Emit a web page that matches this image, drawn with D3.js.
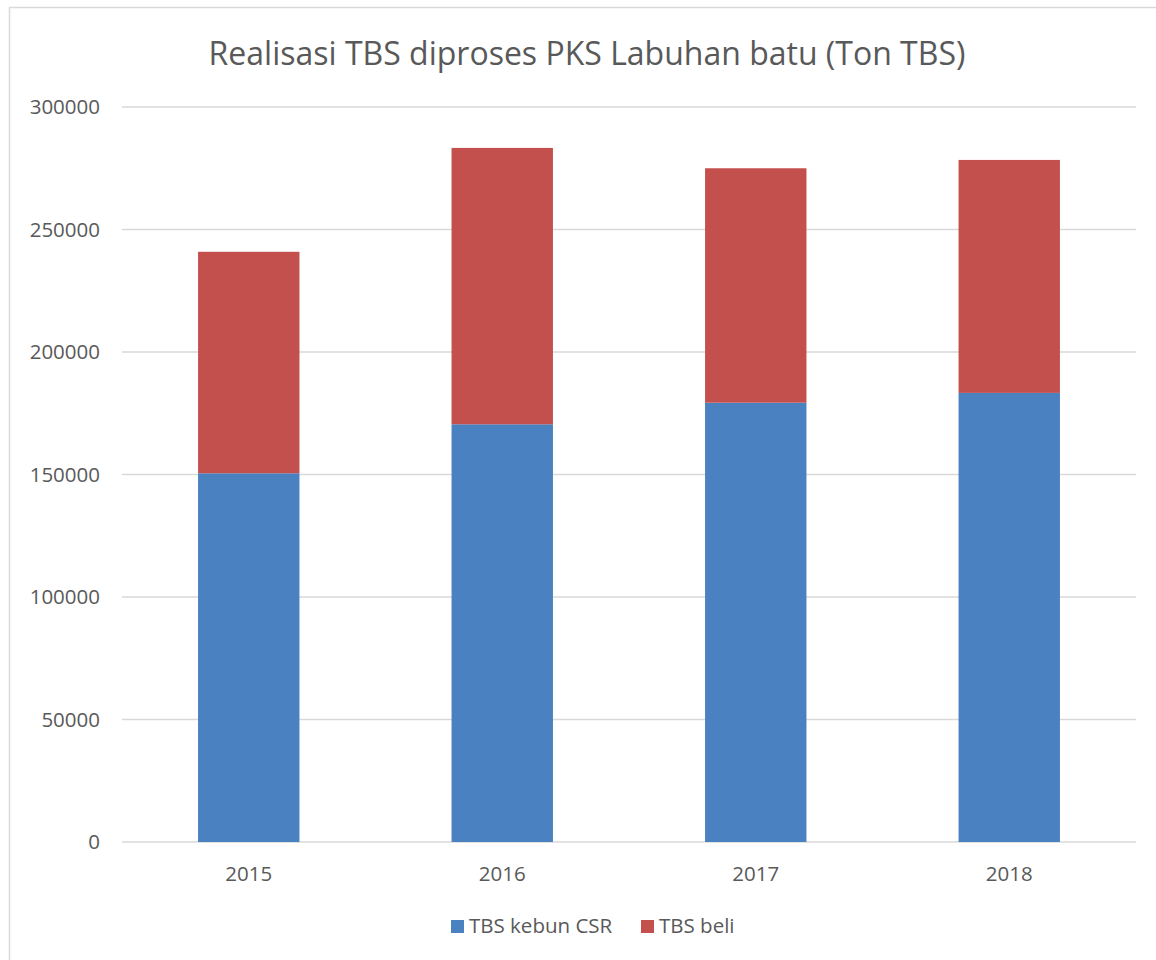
<!DOCTYPE html>
<html>
<head>
<meta charset="utf-8">
<script src="https://cdn.jsdelivr.net/npm/d3@7"></script>
<style>
  body { margin: 0; background: #fff; }
  svg text { font-family: "Open Sans", sans-serif; fill: #595959; }
</style>
</head>
<body>
<svg id="chart" width="1156" height="960"></svg>
<script>
var years = ["2015", "2016", "2017", "2018"];
var kebunCSR = [150500, 170500, 179300, 183300];
var beli = [90400, 112800, 95700, 95100];
var seriesNames = ["TBS kebun CSR", "TBS beli"];
var seriesColors = ["#4a81c0", "#c4504e"];
var yTicks = [0, 50000, 100000, 150000, 200000, 250000, 300000];

var svg = d3.select("#chart");
var margin = { left: 122, right: 1136, top: 107, bottom: 842 };

// chart frame
svg.append("rect")
  .attr("x", 9.5).attr("y", 7.5)
  .attr("width", 1160).attr("height", 970)
  .attr("fill", "none")
  .attr("stroke", "#d9d9d9")
  .attr("stroke-width", 1.5);

svg.append("text")
  .attr("x", 587).attr("y", 65)
  .attr("text-anchor", "middle")
  .style("font-size", "32px")
  .text("Realisasi TBS diproses PKS Labuhan batu (Ton TBS)");

var x = d3.scaleBand()
  .domain(years)
  .range([margin.left, margin.right])
  .paddingInner(0.6)
  .paddingOuter(0.3);

var y = d3.scaleLinear()
  .domain([0, 300000])
  .range([margin.bottom, margin.top]);

// gridlines
svg.append("g")
  .selectAll("line")
  .data(yTicks)
  .join("line")
  .attr("x1", margin.left).attr("x2", margin.right)
  .attr("y1", function (d) { return y(d); })
  .attr("y2", function (d) { return y(d); })
  .attr("stroke", "#d9d9d9")
  .attr("stroke-width", 1.5);

// y axis labels
var yAxis = svg.append("g")
  .attr("transform", "translate(100,0)")
  .call(d3.axisLeft(y).tickValues(yTicks).tickSize(0).tickPadding(0).tickFormat(d3.format("d")));
yAxis.select(".domain").remove();
yAxis.selectAll("text").style("font-size", "20.5px").attr("fill", "#595959");

// stacked data
var rows = years.map(function (yr, i) {
  return { year: yr, csr: kebunCSR[i], beli: beli[i] };
});
var stacked = d3.stack().keys(["csr", "beli"])(rows);

svg.append("g")
  .selectAll("g")
  .data(stacked)
  .join("g")
  .attr("fill", function (d, i) { return seriesColors[i]; })
  .selectAll("rect")
  .data(function (d) { return d; })
  .join("rect")
  .attr("x", function (d) { return x(d.data.year); })
  .attr("width", x.bandwidth())
  .attr("y", function (d) { return y(d[1]); })
  .attr("height", function (d) { return y(d[0]) - y(d[1]); });

// x axis labels
var xAxis = svg.append("g")
  .attr("transform", "translate(0," + (margin.bottom + 24) + ")")
  .call(d3.axisBottom(x).tickSize(0).tickPadding(0));
xAxis.select(".domain").remove();
xAxis.selectAll("text").style("font-size", "20.5px").attr("fill", "#595959");

// legend
var legendX = [451, 641];
var legend = svg.append("g")
  .selectAll("g")
  .data(seriesNames)
  .join("g")
  .attr("transform", function (d, i) { return "translate(" + legendX[i] + ",920)"; });
legend.append("rect")
  .attr("width", 13).attr("height", 13)
  .attr("fill", function (d, i) { return seriesColors[i]; });
legend.append("text")
  .attr("x", 18).attr("y", 13)
  .style("font-size", "20.5px")
  .text(function (d) { return d; });
</script>
</body>
</html>
